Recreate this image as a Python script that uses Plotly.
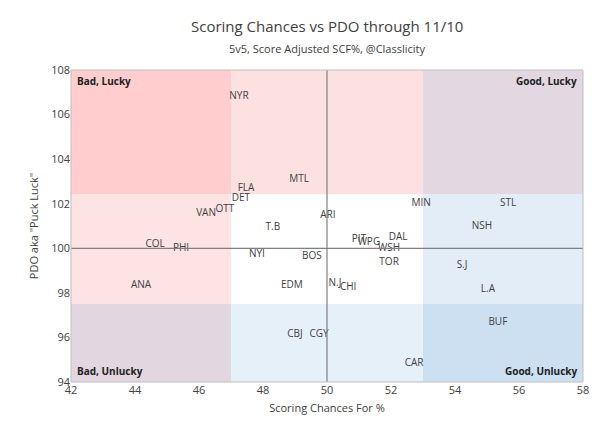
import plotly.graph_objects as go

teams = ["NYR","FLA","DET","MTL","VAN","OTT","T.B","ARI","COL","PHI","NYI","BOS","ANA","EDM","N.J","CHI",
         "PIT","WPG","DAL","WSH","TOR","MIN","STL","NSH","S.J","L.A","BUF","CBJ","CGY","CAR"]
scf = [47.25,47.47,47.31,49.13,46.22,46.81,48.31,50.03,44.63,45.44,47.81,49.53,44.19,48.9,50.25,50.66,
       51.0,51.31,52.22,51.94,51.94,52.94,55.66,54.84,54.22,55.03,55.34,49.0,49.75,52.72]
pdo = [106.79,102.7,102.25,103.1,101.58,101.72,100.95,101.45,100.15,100.01,99.74,99.65,98.31,98.31,98.44,98.22,
       100.4,100.24,100.5,99.97,99.38,101.99,101.99,101.0,99.25,98.17,96.69,96.15,96.15,94.85]

xb = [42, 47, 53, 58]
yb = [94, 97.5, 102.43, 108]
colors = [  # rows bottom->top, cols left->right
    ["#e2d6e0", "#e6f0f9", "#cde0f1"],
    ["#fde3e3", "#ffffff", "#e3edf8"],
    ["#ffcdcd", "#fde1e1", "#e3d8e1"],
]

fig = go.Figure(go.Scatter(x=scf, y=pdo, mode="text", text=teams,
                           textfont=dict(family="Open Sans, Liberation Sans", size=10, color="#404040"),
                           hoverinfo="skip", showlegend=False))
shapes = []
for r in range(3):
    for c in range(3):
        shapes.append(dict(type="rect", layer="below", xref="x", yref="y", line=dict(width=0),
                           x0=xb[c], x1=xb[c+1], y0=yb[r], y1=yb[r+1], fillcolor=colors[r][c]))
shapes.append(dict(type="line", xref="x", yref="y", x0=50, x1=50, y0=94, y1=108, line=dict(color="#808080", width=1.2)))
shapes.append(dict(type="line", xref="x", yref="y", x0=42, x1=58, y0=100, y1=100, line=dict(color="#808080", width=1.2)))
shapes.append(dict(type="rect", xref="paper", yref="paper", x0=0, x1=1, y0=0, y1=1, line=dict(color="#bfbfbf", width=1)))

corner_font = dict(family="Open Sans, Liberation Sans", size=10, color="#202020")
annotations = [
    dict(x=0, y=1, xref="paper", yref="paper", text="<b>Bad, Lucky</b>", xanchor="left", yanchor="top", xshift=4, yshift=-2, showarrow=False, font=corner_font),
    dict(x=1, y=1, xref="paper", yref="paper", text="<b>Good, Lucky</b>", xanchor="right", yanchor="top", xshift=-4, yshift=-2, showarrow=False, font=corner_font),
    dict(x=0, y=0, xref="paper", yref="paper", text="<b>Bad, Unlucky</b>", xanchor="left", yanchor="bottom", xshift=4, yshift=2, showarrow=False, font=corner_font),
    dict(x=1, y=0, xref="paper", yref="paper", text="<b>Good, Unlucky</b>", xanchor="right", yanchor="bottom", xshift=-4, yshift=2, showarrow=False, font=corner_font),
    dict(x=0.5, y=1.179, xref="paper", yref="paper", text="Scoring Chances vs PDO through 11/10", yanchor="top", showarrow=False,
         font=dict(family="Open Sans, Liberation Sans", size=15, color="#404040")),
    dict(x=0.5, y=1.099, xref="paper", yref="paper", text="5v5, Score Adjusted SCF%, @Classlicity", yanchor="top", showarrow=False,
         font=dict(family="Open Sans, Liberation Sans", size=11, color="#404040")),
]

fig.update_layout(
    width=599, height=432, margin=dict(l=63, r=24, t=62, b=58),
    paper_bgcolor="white", plot_bgcolor="white",
    shapes=shapes, annotations=annotations,
    font=dict(family="Open Sans, Liberation Sans", size=11, color="#404040"),
    xaxis=dict(range=[42, 58], dtick=2, showgrid=False, zeroline=False, ticks="", title=dict(text="Scoring Chances For %", font=dict(size=11), standoff=8)),
    yaxis=dict(range=[94, 108], dtick=2, showgrid=False, zeroline=False, ticks="", title=dict(text='PDO aka "Puck Luck"', font=dict(size=11), standoff=10)),
)
fig.write_html("out.html")
